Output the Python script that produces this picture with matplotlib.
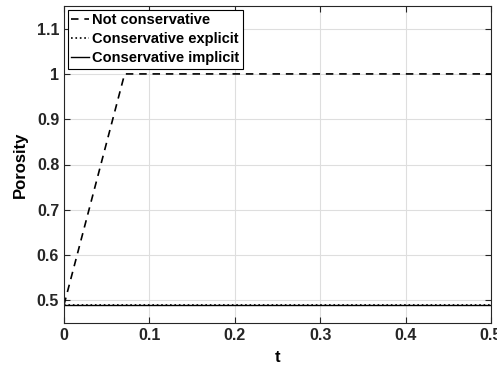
import matplotlib
matplotlib.use('Agg')
import matplotlib.pyplot as plt

# porosity vs time, three schemes
t_not = [0.0, 0.071, 0.5]
phi_not = [0.49, 1.0, 1.0]
t_expl = [0.0, 0.5]
phi_expl = [0.49, 0.49]
t_impl = [0.0, 0.5]
phi_impl = [0.49, 0.49]

xticks = [0, 0.1, 0.2, 0.3, 0.4, 0.5]
yticks = [0.5, 0.6, 0.7, 0.8, 0.9, 1.0, 1.1]
ylabels = ['0.5', '0.6', '0.7', '0.8', '0.9', '1', '1.1']

plt.rcParams['font.family'] = ['Liberation Sans', 'DejaVu Sans']
plt.rcParams['font.weight'] = 'bold'

fig = plt.figure(figsize=(4.97, 3.67), dpi=100)
ax = fig.add_axes([64 / 497, 1 - 323 / 367, (491 - 64) / 497, (323 - 6) / 367])

ax.plot(t_not, phi_not, color='k', ls=(0, (4.5, 3.5)), lw=1.2, label='Not conservative')
ax.plot(t_expl, phi_expl, 'k:', lw=1.2, label='Conservative explicit')
ax.plot(t_impl, phi_impl, 'k-', lw=1.0, label='Conservative implicit')

ax.set_xlim(0, 0.5)
ax.set_ylim(0.45, 1.15)
ax.set_xticks(xticks)
ax.set_xticklabels(['0', '0.1', '0.2', '0.3', '0.4', '0.5'])
ax.set_yticks(yticks)
ax.set_yticklabels(ylabels)
ax.tick_params(direction='in', length=4, labelsize=11.5, colors='#262626', width=0.8)
for lab in ax.get_xticklabels() + ax.get_yticklabels():
    lab.set_fontweight('bold')
ax.tick_params(top=True, right=True)
ax.grid(True, color='#dedede', lw=0.8)
for s in ax.spines.values():
    s.set_color('#262626')
    s.set_linewidth(0.8)

ax.set_xlabel('t', fontsize=12, fontweight='bold', labelpad=5)
ax.set_ylabel('Porosity', fontsize=12, fontweight='bold', labelpad=6)

leg = ax.legend(loc='upper left', fontsize=10.5, fancybox=False, framealpha=1,
                edgecolor='black', borderpad=0.25, labelspacing=0.35,
                handlelength=1.2, handletextpad=0.25, borderaxespad=0.25)
leg.get_frame().set_linewidth(0.8)
for txt in leg.get_texts():
    txt.set_fontweight('bold')

fig.savefig('out.png', dpi=100)
